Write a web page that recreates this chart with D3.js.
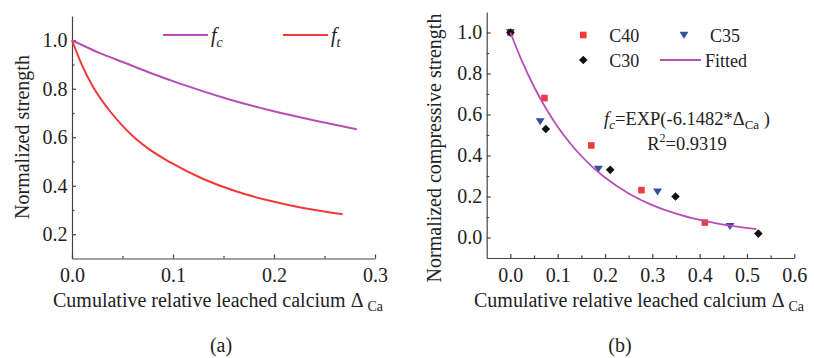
<!DOCTYPE html>
<html>
<head>
<meta charset="utf-8">
<script src="https://cdn.jsdelivr.net/npm/d3@7"></script>
<style>
  html, body { margin: 0; padding: 0; background: #fff; }
  svg { display: block; }
  .axis path, .axis line { stroke: #444; stroke-width: 1.2; }
</style>
</head>
<body>
<svg id="chart" width="814" height="358" font-family="Liberation Serif"></svg>
<script>
// ---- Panel (a): normalized compressive (fc) and tensile (ft) strength ----
const fcDelta = [0, 0.027, 0.054, 0.0752, 0.107, 0.155, 0.2, 0.229, 0.282];
const fcValue = [1.0, 0.948, 0.904, 0.869, 0.821, 0.757, 0.707, 0.679, 0.633];

const ftDelta = [0, 0.0092, 0.0208, 0.039, 0.0508, 0.0604, 0.0752, 0.097, 0.13, 0.163, 0.196, 0.229, 0.268];
const ftValue = [1.0, 0.904, 0.808, 0.70, 0.644, 0.604, 0.554, 0.497, 0.428, 0.376, 0.338, 0.308, 0.282];

const aXTicks = [0, 0.1, 0.2, 0.3];
const aXMinor = [0.05, 0.15, 0.25];
const aYTicks = [0.2, 0.4, 0.6, 0.8, 1.0];
const aYMinor = [0.3, 0.5, 0.7, 0.9];

// ---- Panel (b): measured compressive strength by grade, with fitted curve ----
const c40Delta = [0, 0.072, 0.171, 0.277, 0.411];
const c40Value = [1.0, 0.68, 0.449, 0.231, 0.073];
const c35Delta = [0, 0.063, 0.186, 0.311, 0.464];
const c35Value = [1.0, 0.566, 0.334, 0.224, 0.055];
const c30Delta = [0, 0.075, 0.211, 0.349, 0.524];
const c30Value = [1.0, 0.529, 0.330, 0.200, 0.019];

// fc = EXP(-6.1482*ΔCa)
const fitDelta = [0, 0.025, 0.05, 0.075, 0.1, 0.125, 0.15, 0.175, 0.2, 0.25, 0.3, 0.35, 0.4, 0.45, 0.52];
const fitValue = [1, 0.8575, 0.7354, 0.6306, 0.5407, 0.4637, 0.3976, 0.3410, 0.2924, 0.2150, 0.1581, 0.1162, 0.0855, 0.0629, 0.0409];

const bXTicks = [0, 0.1, 0.2, 0.3, 0.4, 0.5, 0.6];
const bXMinor = [0.05, 0.15, 0.25, 0.35, 0.45, 0.55];
const bYTicks = [0, 0.2, 0.4, 0.6, 0.8, 1.0];
const bYMinor = [0.1, 0.3, 0.5, 0.7, 0.9];

const PURPLE = "#b94db5";
const RED = "#f03a3a";
const BLUE = "#3350a3";
const BLACK = "#111";
const TEXT = "#222";
const SERIF = "Liberation Serif";
const FS = 20;       // main text size
const FS_LEG = 18;   // legend size
const FS_EQ = 18.5;  // equation size
const FS_SUB = 14;   // subscripts

const svg = d3.select("#chart");
const fmt = d3.format(".1f");

function drawAxes(g, x, y, xt, xm, yt, ym) {
  const y0 = y.range()[0], x0 = x.range()[0];
  const ax = [
    g.append("g").attr("transform", `translate(0,${y0})`)
      .call(d3.axisBottom(x).tickValues(xt).tickFormat(fmt).tickSizeInner(-4).tickSizeOuter(0).tickPadding(9.5)),
    g.append("g").attr("transform", `translate(0,${y0})`)
      .call(d3.axisBottom(x).tickValues(xm).tickFormat("").tickSizeInner(-2.5).tickSizeOuter(0)),
    g.append("g").attr("transform", `translate(${x0},0)`)
      .call(d3.axisLeft(y).tickValues(yt).tickFormat(fmt).tickSizeInner(-4).tickSizeOuter(0).tickPadding(4.5)),
    g.append("g").attr("transform", `translate(${x0},0)`)
      .call(d3.axisLeft(y).tickValues(ym).tickFormat("").tickSizeInner(-2.5).tickSizeOuter(0))
  ];
  ax[1].select(".domain").remove();
  ax[3].select(".domain").remove();
  ax.forEach(a => a.attr("class", "axis").attr("font-size", FS));
}

function xTitle(g, cx, yBase) {
  const t = g.append("text").attr("x", cx).attr("y", yBase).attr("text-anchor", "middle")
    .attr("font-size", FS);
  t.append("tspan").text("Cumulative relative leached calcium \u0394 ");
  t.append("tspan").attr("font-size", FS_SUB).attr("dy", 4).text("Ca");
}

// ================= Panel (a) =================
const xA = d3.scaleLinear([0, 0.3], [72, 375]);
const yA = d3.scaleLinear([0.1, 1.1], [258.5, 16]);
const gA = svg.append("g");
drawAxes(gA, xA, yA, aXTicks, aXMinor, aYTicks, aYMinor);

const lineA = d3.line().x(d => xA(d[0])).y(d => yA(d[1])).curve(d3.curveMonotoneX);
gA.append("path").attr("d", lineA(d3.zip(fcDelta, fcValue)))
  .attr("fill", "none").attr("stroke", PURPLE).attr("stroke-width", 2);
gA.append("path").attr("d", lineA(d3.zip(ftDelta, ftValue)))
  .attr("fill", "none").attr("stroke", RED).attr("stroke-width", 2);

// legend (a)
const legA = [
  { color: PURPLE, x: 163, sub: "c" },
  { color: RED, x: 283, sub: "t" }
];
legA.forEach(d => {
  gA.append("line").attr("x1", d.x).attr("x2", d.x + 45).attr("y1", 35).attr("y2", 35)
    .attr("stroke", d.color).attr("stroke-width", 2);
  const t = gA.append("text").attr("x", d.x + 48).attr("y", 42).attr("font-size", FS)
    .attr("font-style", "italic");
  t.append("tspan").text("f");
  t.append("tspan").attr("font-size", FS_SUB).attr("dy", 5).text(d.sub);
});

gA.append("text").attr("transform", "translate(28.5,137) rotate(-90)")
  .attr("text-anchor", "middle").attr("font-size", FS).text("Normalized strength");
xTitle(gA, 218, 307);
gA.append("text").attr("x", 221).attr("y", 352).attr("text-anchor", "middle")
  .attr("font-size", FS).text("(a)");

// ================= Panel (b) =================
const xB = d3.scaleLinear([-0.05, 0.6], [486.7, 794.3]);
const yB = d3.scaleLinear([-0.1, 1.1], [258, 12]);
const gB = svg.append("g");
drawAxes(gB, xB, yB, bXTicks, bXMinor, bYTicks, bYMinor);

const square = "M-3.3,-3.3H3.3V3.3H-3.3Z";
const triDown = "M-4.5,-3.2H4.5L0,3.8Z";
const diamond = "M0,-4.3L4.3,0L0,4.3L-4.3,0Z";

const groups = [
  { dx: c40Delta, vy: c40Value, color: RED, shape: square },
  { dx: c35Delta, vy: c35Value, color: BLUE, shape: triDown },
  { dx: c30Delta, vy: c30Value, color: BLACK, shape: diamond }
];
groups.forEach(s => {
  gB.append("g").selectAll("path").data(d3.zip(s.dx, s.vy)).join("path")
    .attr("transform", d => `translate(${xB(d[0])},${yB(d[1])})`)
    .attr("d", s.shape).attr("fill", s.color);
});

const lineB = d3.line().x(d => xB(d[0])).y(d => yB(d[1])).curve(d3.curveMonotoneX);
gB.append("path").attr("d", lineB(d3.zip(fitDelta, fitValue)))
  .attr("fill", "none").attr("stroke", PURPLE).attr("stroke-width", 1.8);

// legend (b)
const legB = [
  { label: "C40", x: 583.3, y: 35, shape: square, color: RED },
  { label: "C35", x: 684, y: 35, shape: triDown, color: BLUE },
  { label: "C30", x: 583.3, y: 60, shape: diamond, color: BLACK }
];
legB.forEach(d => {
  gB.append("path").attr("transform", `translate(${d.x},${d.y})`).attr("d", d.shape).attr("fill", d.color);
  gB.append("text").attr("x", d.x + 26).attr("y", d.y + 6.5).attr("font-size", FS_LEG).text(d.label);
});
gB.append("line").attr("x1", 660).attr("x2", 701).attr("y1", 60).attr("y2", 60)
  .attr("stroke", PURPLE).attr("stroke-width", 1.8);
gB.append("text").attr("x", 705).attr("y", 66.5).attr("font-size", FS_LEG).text("Fitted");

// fitted equation
const eq = gB.append("text").attr("x", 687).attr("y", 125).attr("text-anchor", "middle").attr("font-size", FS_EQ);
eq.append("tspan").attr("font-style", "italic").text("f");
eq.append("tspan").attr("font-style", "italic").attr("font-size", 13).attr("dy", 4).text("c");
eq.append("tspan").attr("dy", -4).text("=EXP(-6.1482*\u0394");
eq.append("tspan").attr("font-size", 13).attr("dy", 4).text("Ca");
eq.append("tspan").attr("dy", -4).text(" )");

const r2 = gB.append("text").attr("x", 687).attr("y", 150).attr("text-anchor", "middle").attr("font-size", FS_EQ);
r2.append("tspan").text("R");
r2.append("tspan").attr("font-size", 12).attr("dy", -8).text("2");
r2.append("tspan").attr("dy", 8).text("=0.9319");

gB.append("text").attr("transform", "translate(440.5,148) rotate(-90)")
  .attr("text-anchor", "middle").attr("font-size", FS).text("Normalized compressive strength");
xTitle(gB, 639, 307);
gB.append("text").attr("x", 620).attr("y", 352).attr("text-anchor", "middle")
  .attr("font-size", FS).text("(b)");

// one serif face for every label
svg.selectAll("g").attr("font-family", SERIF);
svg.selectAll("text").attr("font-family", SERIF).attr("fill", TEXT);
</script>
</body>
</html>
